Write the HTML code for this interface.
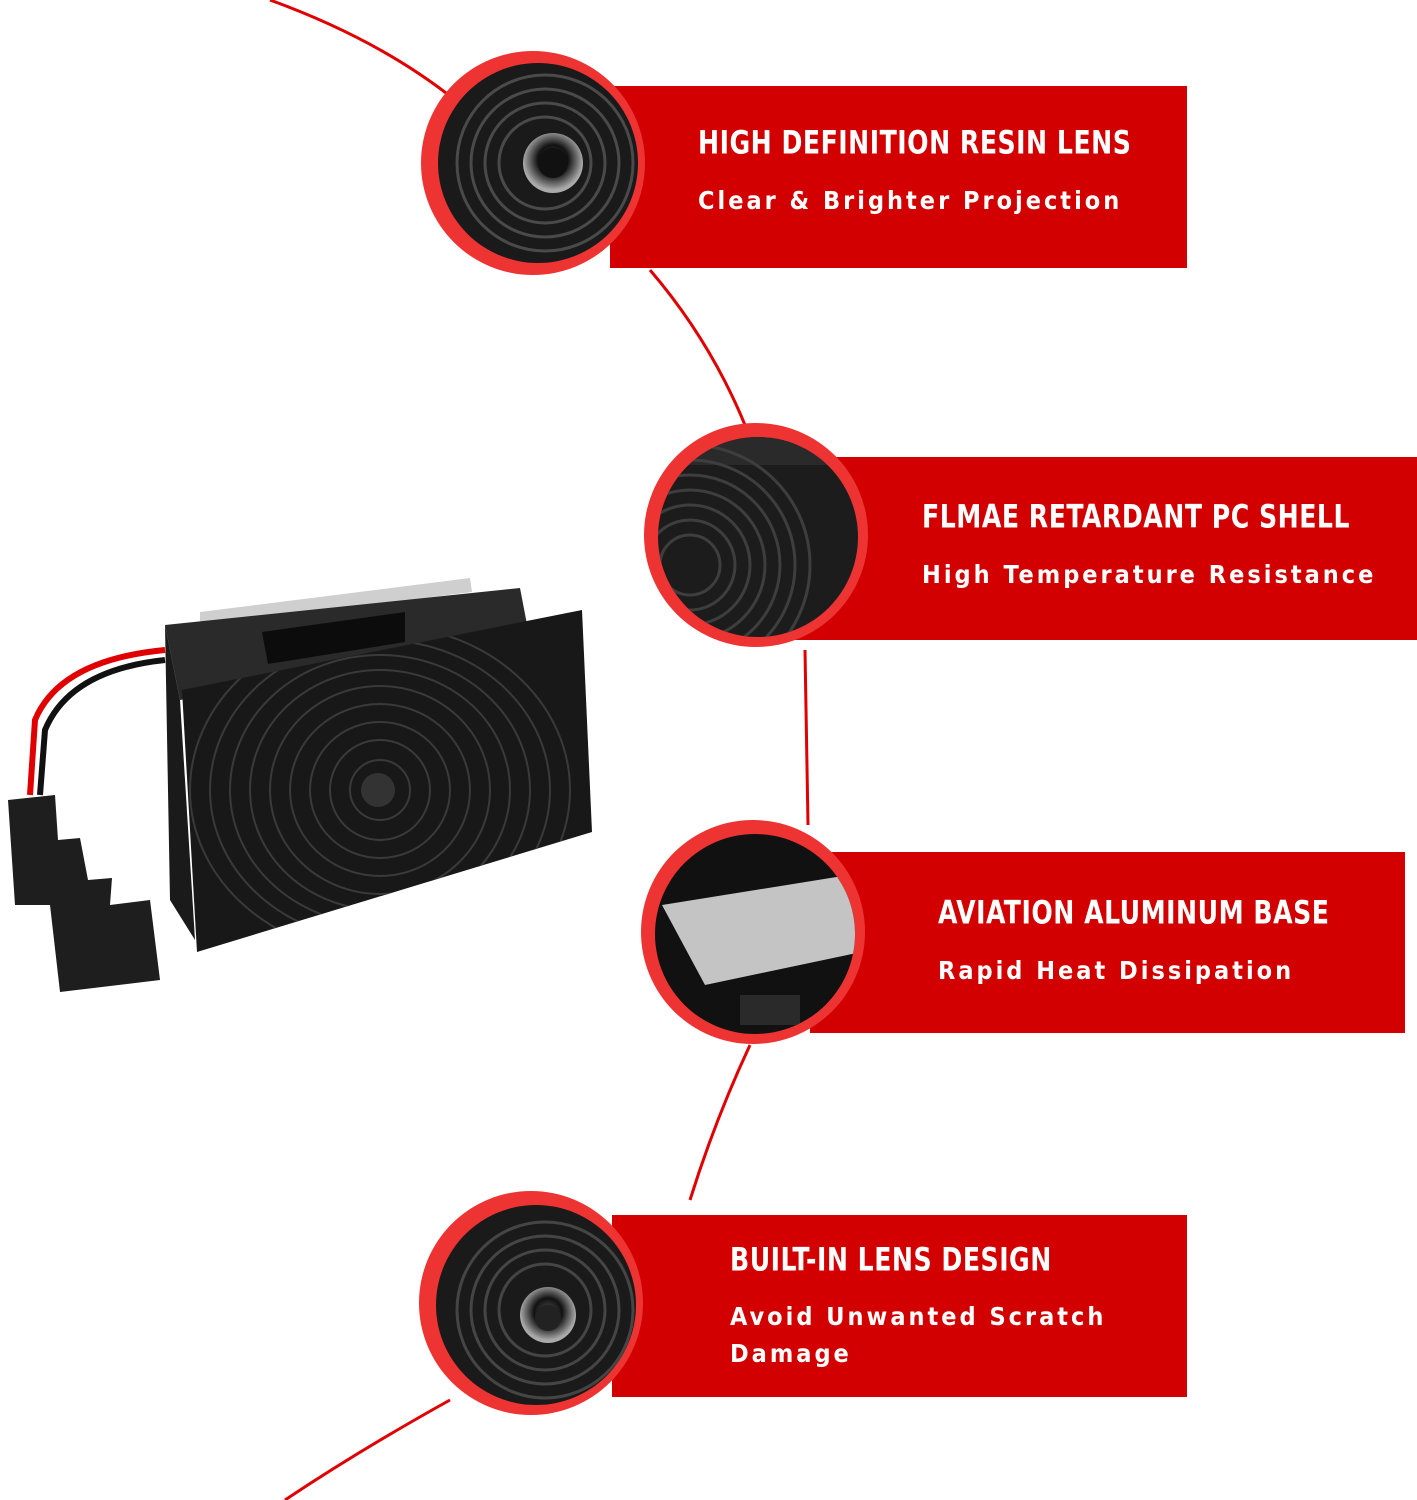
<!DOCTYPE html>
<html><head><meta charset="utf-8"><style>
html,body{margin:0;padding:0;background:#fff;}
body{width:1417px;height:1500px;position:relative;overflow:hidden;font-family:"Liberation Sans",sans-serif;}
.box{position:absolute;background:#d20000;}
.t{position:absolute;color:#fff;font-weight:bold;font-family:"DejaVu Sans Condensed","DejaVu Sans","Liberation Sans",sans-serif;white-space:nowrap;}
.h{font-size:28px;letter-spacing:0.5px;transform:scaleY(1.15);transform-origin:left;}
.s{font-size:25px;letter-spacing:3px;}
svg{position:absolute;left:0;top:0;}
</style></head><body>
<div class="box" style="left:610px;top:86px;width:577px;height:182px"></div>
<div class="box" style="left:790px;top:457px;width:627px;height:183px"></div>
<div class="box" style="left:810px;top:852px;width:595px;height:181px"></div>
<div class="box" style="left:612px;top:1215px;width:575px;height:182px"></div>

<svg width="1417" height="1500" viewBox="0 0 1417 1500">
<defs>
<radialGradient id="lg" cx="50%" cy="45%" r="50%"><stop offset="0" stop-color="#555"/><stop offset="0.5" stop-color="#111"/><stop offset="1" stop-color="#aaa"/></radialGradient>
<clipPath id="c2"><circle cx="758" cy="537" r="100"/></clipPath>
<clipPath id="c3"><circle cx="755" cy="934" r="100"/></clipPath>
<clipPath id="pl"><polygon points="182,690 582,610 592,832 197,952"/></clipPath>
</defs>
<g fill="none" stroke="#e00000" stroke-width="3">
<path d="M270 0 Q380 40 455 100"/>
<path d="M650 270 Q710 340 745 425"/>
<path d="M805 650 L808 825"/>
<path d="M750 1045 Q715 1120 690 1200"/>
<path d="M450 1400 Q360 1450 285 1500"/>
</g>
<g>
<circle cx="533" cy="163" r="112" fill="#e33"/>
<circle cx="538" cy="163" r="100" fill="#1a1a1a"/>
<g fill="none" stroke="#4a4a4a" stroke-width="3">
<circle cx="545" cy="163" r="88"/><circle cx="545" cy="163" r="74"/><circle cx="545" cy="163" r="60"/><circle cx="545" cy="163" r="46"/>
</g>
<circle cx="553" cy="163" r="30" fill="url(#lg)"/><circle cx="553" cy="163" r="15" fill="#111"/>
</g>
<g>
<circle cx="756" cy="535" r="112" fill="#e33"/>
<circle cx="758" cy="537" r="100" fill="#1c1c1c"/>
<g clip-path="url(#c2)">
<rect x="650" y="430" width="220" height="35" fill="#2a2a2a"/>
<g fill="none" stroke="#3e3e3e" stroke-width="3">
<circle cx="690" cy="565" r="30"/><circle cx="690" cy="565" r="45"/><circle cx="690" cy="565" r="60"/><circle cx="690" cy="565" r="75"/><circle cx="690" cy="565" r="90"/><circle cx="690" cy="565" r="105"/><circle cx="690" cy="565" r="120"/>
</g>
</g>
</g>
<g>
<circle cx="753" cy="932" r="112" fill="#e33"/>
<circle cx="755" cy="934" r="100" fill="#111"/>
<g clip-path="url(#c3)">
<polygon points="662,905 880,870 895,945 705,985" fill="#c4c4c4"/>
<rect x="740" y="995" width="60" height="30" fill="#2a2a2a"/>
</g>
</g>
<g>
<circle cx="531" cy="1303" r="112" fill="#e33"/>
<circle cx="536" cy="1305" r="100" fill="#1a1a1a"/>
<g fill="none" stroke="#454545" stroke-width="3">
<circle cx="545" cy="1310" r="88"/><circle cx="545" cy="1310" r="74"/><circle cx="545" cy="1310" r="60"/><circle cx="545" cy="1310" r="46"/>
</g>
<circle cx="548" cy="1315" r="28" fill="url(#lg)"/><circle cx="548" cy="1318" r="13" fill="#222"/>
</g>
<!-- product -->
<path d="M165 650 Q60 660 35 720 L30 795" fill="none" stroke="#e00000" stroke-width="6"/>
<path d="M165 660 Q70 670 45 730 L40 795" fill="none" stroke="#111" stroke-width="6"/>
<polygon points="8,800 55,795 58,840 80,838 88,880 112,878 110,905 150,900 160,980 60,992 50,905 15,905" fill="#1e1e1e"/>
<polygon points="200,612 470,578 472,592 200,626" fill="#cfcfcf"/>
<polygon points="165,625 520,588 530,640 180,700" fill="#2a2a2a"/>
<polygon points="262,632 405,612 405,642 268,664" fill="#0c0c0c"/>
<polygon points="165,625 180,700 195,940 170,900" fill="#1a1a1a"/>
<polygon points="182,690 582,610 592,832 197,952" fill="#181818"/>
<g clip-path="url(#pl)" fill="none" stroke="#3a3a3a" stroke-width="2">
<ellipse cx="380" cy="790" rx="30" ry="30"/><ellipse cx="380" cy="790" rx="50" ry="50"/><ellipse cx="380" cy="790" rx="70" ry="68"/><ellipse cx="380" cy="790" rx="90" ry="86"/><ellipse cx="380" cy="790" rx="110" ry="104"/><ellipse cx="380" cy="790" rx="130" ry="120"/><ellipse cx="380" cy="790" rx="150" ry="135"/><ellipse cx="380" cy="790" rx="170" ry="150"/><ellipse cx="380" cy="790" rx="190" ry="165"/>
</g>
<circle cx="378" cy="790" r="17" fill="#333"/>
</svg>

<div class="t h" style="left:698px;top:126px">HIGH DEFINITION RESIN LENS</div>
<div class="t s" style="left:698px;top:186px">Clear &amp; Brighter Projection</div>
<div class="t h" style="left:922px;top:500px">FLMAE RETARDANT PC SHELL</div>
<div class="t s" style="left:922px;top:560px">High Temperature Resistance</div>
<div class="t h" style="left:938px;top:896px">AVIATION ALUMINUM BASE</div>
<div class="t s" style="left:938px;top:956px">Rapid Heat Dissipation</div>
<div class="t h" style="left:730px;top:1243px">BUILT-IN LENS DESIGN</div>
<div class="t s" style="left:730px;top:1302px">Avoid Unwanted Scratch</div>
<div class="t s" style="left:730px;top:1339px">Damage</div>
</body></html>
